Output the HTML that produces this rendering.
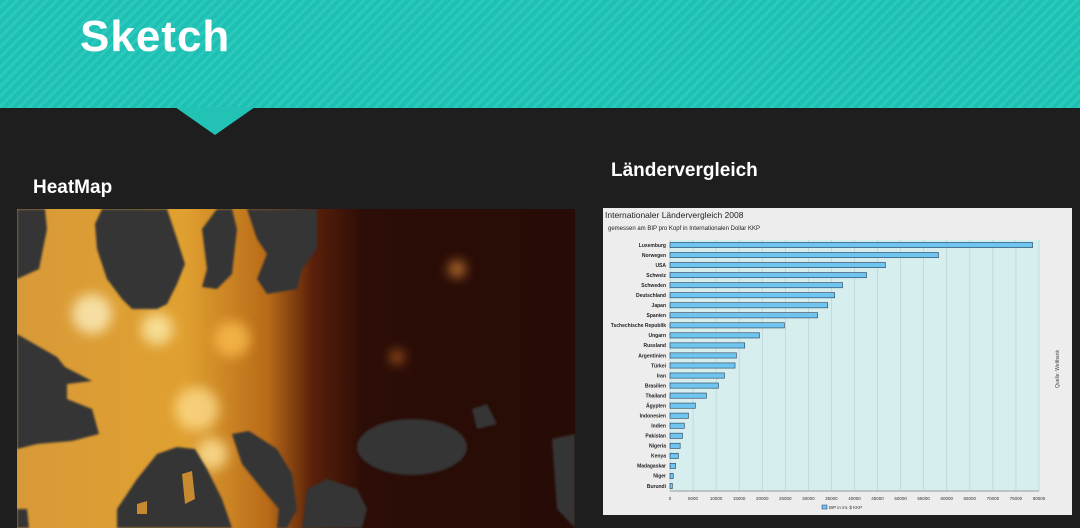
<!DOCTYPE html>
<html><head><meta charset="utf-8">
<style>
html,body{margin:0;padding:0;}
body{width:1080px;height:528px;overflow:hidden;background:#1e1e1e;position:relative;font-family:"Liberation Sans",sans-serif;}
#header{position:absolute;left:0;top:0;width:1080px;height:108px;background:repeating-linear-gradient(135deg,#1ec0b3 0 4px,#2ac9bc 4px 7px);}
#notch{position:absolute;left:0;top:0;}
#title{position:absolute;left:80px;top:12px;font-size:44px;font-weight:bold;color:#fff;letter-spacing:1px;}
.h2{position:absolute;color:#fff;font-weight:bold;font-size:19px;}
#heatmap{position:absolute;left:17px;top:209px;}
#chart{position:absolute;left:603px;top:208px;}
</style></head>
<body>
<div id="header"></div>
<svg id="notch" width="1080" height="140"><polygon points="175,107 255,107 215,135" fill="#22c2b5"/></svg>
<div id="title">Sketch</div>
<div class="h2" style="left:33px;top:177px;">HeatMap</div>
<div class="h2" style="left:611px;top:160px;">Ländervergleich</div>

<svg id="heatmap" width="558" height="319">
<defs>
<linearGradient id="lg" x1="0" x2="1" y1="0" y2="0">
<stop offset="0" stop-color="#d89a38"/>
<stop offset="0.3" stop-color="#e0a030"/>
<stop offset="0.45" stop-color="#b86a18"/>
<stop offset="0.53" stop-color="#5a200a"/>
<stop offset="0.62" stop-color="#2c0d07"/>
<stop offset="1" stop-color="#260b06"/>
</linearGradient>
<filter id="bl"><feGaussianBlur stdDeviation="6"/></filter>
<filter id="bl2"><feGaussianBlur stdDeviation="1"/></filter>
</defs>
<rect width="558" height="319" fill="url(#lg)"/>
<g filter="url(#bl)" opacity="0.75">
<circle cx="75" cy="105" r="20" fill="#fff4c8"/>
<circle cx="140" cy="120" r="16" fill="#fff0b0"/>
<circle cx="180" cy="200" r="22" fill="#ffe090"/>
<circle cx="195" cy="245" r="16" fill="#ffe8a0"/>
<circle cx="215" cy="130" r="18" fill="#ffc050"/>
<circle cx="440" cy="60" r="8" fill="#ffa040"/>
<circle cx="380" cy="148" r="6" fill="#ff9030"/>
</g>
<g fill="#343434" filter="url(#bl2)">
<polygon points="0,0 28,0 30,20 22,60 0,70"/>
<polygon points="85,0 150,0 160,30 168,55 160,75 150,95 140,100 115,100 105,90 90,70 80,40 78,15"/>
<polygon points="200,0 215,0 220,20 215,65 200,80 185,78 190,60 185,20"/>
<polygon points="230,0 300,0 300,40 285,60 280,80 250,85 240,70 250,45 240,30"/>
<polygon points="0,125 40,148 48,158 75,172 50,175 50,190 75,200 82,225 55,232 20,235 0,240"/>
<polygon points="0,300 10,300 12,319 0,319"/>
<polygon points="100,300 120,270 140,245 160,238 178,240 190,260 205,290 215,319 100,319"/>
<polygon points="215,225 232,222 260,240 275,265 280,300 270,319 260,319 262,300 245,280 225,255"/>
<polygon points="290,280 310,270 340,280 350,300 345,319 285,319"/>
<ellipse cx="395" cy="238" rx="55" ry="28"/>
<polygon points="455,200 470,195 480,215 460,220"/>
<polygon points="535,230 558,225 558,319 540,300"/>
</g>
<g fill="#c88a30">
<polygon points="165,265 175,262 178,290 168,295"/>
<polygon points="120,295 130,292 130,305 120,305"/>
</g>
</svg>

<svg id="chart" width="469" height="307" font-family="Liberation Sans, sans-serif">
<rect width="469" height="307" fill="#ededed"/>
<text x="2" y="10" font-size="8.5" fill="#222">Internationaler Ländervergleich 2008</text>
<text x="5" y="22" font-size="6" fill="#222">gemessen am BIP pro Kopf in Internationalen Dollar KKP</text>
<g id="plot"></g>
<text transform="translate(456,180) rotate(-90)" font-size="5" fill="#444">Quelle: Weltbank</text>
<rect x="219" y="297" width="5" height="4" fill="#6ec6f0" stroke="#336" stroke-width="0.5"/>
<text x="226" y="301" font-size="4.5" fill="#333">BIP in int. $ KKP</text>
</svg>

<script>
const countries=["Luxemburg","Norwegen","USA","Schweiz","Schweden","Deutschland","Japan","Spanien","Tschechische Republik","Ungarn","Russland","Argentinien","Türkei","Iran","Brasilien","Thailand","Ägypten","Indonesien","Indien","Pakistan","Nigeria","Kenya","Madagaskar","Niger","Burundi"];
const gdp=[78600,58200,46700,42600,37400,35700,34200,32000,24800,19400,16200,14400,14100,11800,10500,7900,5500,4000,3100,2700,2200,1800,1200,700,500];
const ticks=[0,5000,10000,15000,20000,25000,30000,35000,40000,45000,50000,55000,60000,65000,70000,75000,80000];

const NS="http://www.w3.org/2000/svg";
const plot=document.getElementById('plot');
const X0=67,X1=436,Y0=32,Y1=283;
const xs=v=>X0+(v/80000)*(X1-X0);
const step=(Y1-Y0)/countries.length;
const ys=i=>Y0+step*(i+0.5);
function mk(t,a){const e=document.createElementNS(NS,t);for(const k in a)e.setAttribute(k,a[k]);plot.appendChild(e);return e;}
let bg=mk('rect',{x:X0,y:Y0,width:X1-X0,height:Y1-Y0,fill:'#d6eeee'});


ticks.forEach(t=>{
  const l=mk('line',{x1:xs(t),x2:xs(t),y1:Y0,y2:Y1,stroke:'#b8cccc','stroke-width':0.6});
  
  
  const tx=mk('text',{x:xs(t),y:Y1+9,'font-size':4.5,'text-anchor':'middle',fill:'#333'});
  tx.textContent=t;
  
  
});
const ax=mk('line',{x1:X0,x2:X1,y1:Y1,y2:Y1,stroke:'#999','stroke-width':1});


countries.forEach((c,i)=>{
  const y=ys(i);
  const b=mk('rect',{x:X0,y:y-2.6,width:xs(gdp[i])-X0,height:5.2,fill:'#6ec6f0',stroke:'#2a3d55','stroke-width':0.6});
  
  
  const t=mk('text',{x:X0-4,y:y+1.8,'font-size':5,'text-anchor':'end',fill:'#222','font-weight':'bold'});
  t.textContent=c;
  
  
});
</script>
</body></html>
